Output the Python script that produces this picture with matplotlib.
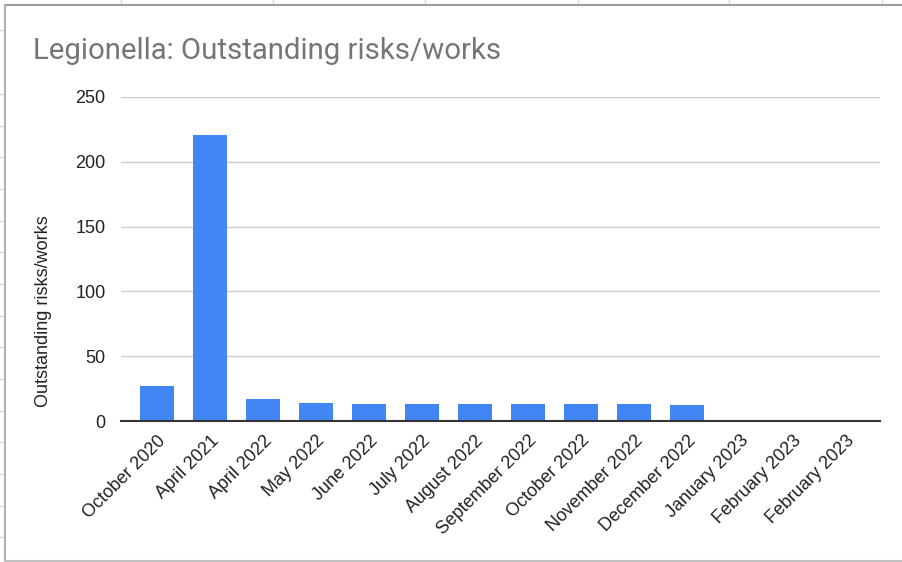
import matplotlib
matplotlib.use("Agg")
import matplotlib.pyplot as plt
from matplotlib.lines import Line2D

# Data
categories = ["October 2020", "April 2021", "April 2022", "May 2022", "June 2022",
              "July 2022", "August 2022", "September 2022", "October 2022",
              "November 2022", "December 2022", "January 2023", "February 2023",
              "February 2023"]
values = [27, 221, 17, 14, 13, 13, 13, 13, 13, 13, 12, 0, 0, 0]
y_ticks = [0, 50, 100, 150, 200, 250]

W, H = 902, 562
fig = plt.figure(figsize=(W / 100, H / 100), dpi=100)
fig.patch.set_facecolor("white")

# Surrounding spreadsheet cell lines
for x in [121, 273, 425, 578, 729, 882]:
    fig.add_artist(Line2D([x / W, x / W], [1, 1 - 4 / H], color="#d9d9d9", lw=1))
for y in [30, 94, 126, 157, 189, 221, 252, 284, 316, 347, 379, 411, 442, 474, 506, 537]:
    fig.add_artist(Line2D([0, 4 / W], [1 - y / H, 1 - y / H], color="#d9d9d9", lw=1))

# Chart frame
fig.add_artist(Line2D([4.5 / W, 1.0], [1 - 4.5 / H, 1 - 4.5 / H], color="#9e9e9e", lw=1.5))
fig.add_artist(Line2D([4.5 / W, 4.5 / W], [1 - 4.5 / H, 1 - 561 / H], color="#b0b0b0", lw=1.5))
fig.add_artist(Line2D([4.5 / W, 1.0], [1 - 561 / H, 1 - 561 / H], color="#c0c0c0", lw=1.5))

ax = fig.add_axes([121 / W, 1 - 421 / H, 759 / W, 324 / H])
ax.set_facecolor("none")

x = list(range(len(categories)))
ax.bar(x, values, width=0.64, color="#4285f4", zorder=3)

ax.set_ylim(0, 250)
ax.set_xlim(-0.68, 13.64)
ax.set_yticks(y_ticks)
ax.yaxis.grid(True, color="#cccccc", lw=1, zorder=0)
ax.set_axisbelow(True)
for s in ["top", "right", "left"]:
    ax.spines[s].set_visible(False)
ax.spines["bottom"].set_color("#333333")
ax.spines["bottom"].set_linewidth(1.5)
ax.spines["bottom"].set_zorder(4)
ax.tick_params(axis="both", length=0, labelsize=13, labelcolor="#222222")
ax.tick_params(axis="y", pad=11)
for lab in ax.get_yticklabels():
    lab.set_fontfamily("Liberation Sans")

ax.set_xticks(x)
ax.set_xticklabels(categories, rotation=45, ha="right", va="top",
                   rotation_mode="anchor", fontfamily="Liberation Sans")
ax.tick_params(axis="x", pad=8)

fig.text(33 / W, 1 - 51 / H, "Legionella: Outstanding risks/works",
         fontsize=21.2, color="#757575", fontfamily="Roboto",
         ha="left", va="center")
fig.text(44 / W, 1 - 311 / H, "Outstanding risks/works", rotation=90,
         fontsize=13, color="#222222", fontfamily="Liberation Sans",
         ha="center", va="center")

fig.savefig("out.png", dpi=100)
